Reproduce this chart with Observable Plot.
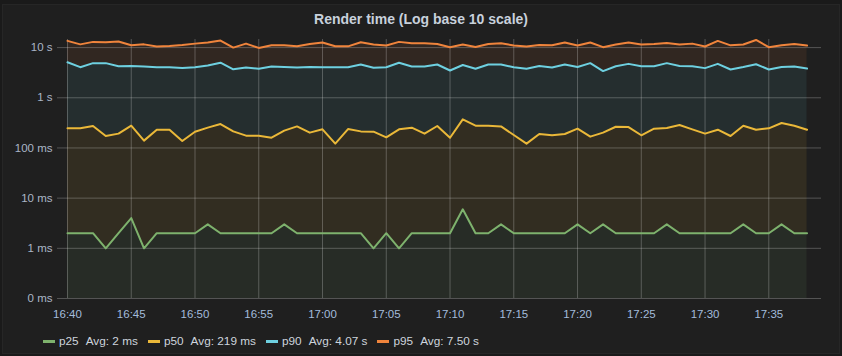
<!DOCTYPE html>
<html>
<head>
<meta charset="utf-8">
<script src="https://cdn.jsdelivr.net/npm/d3@7"></script>
<script src="https://cdn.jsdelivr.net/npm/@observablehq/plot@0.6"></script>
<style>
  html, body { margin: 0; padding: 0; background: #1a1a1a; }
  #panel { position: absolute; left: 2px; top: 4px; width: 838px; height: 350px; background: #1f1f1f; border: 1px solid #262626; box-sizing: border-box; }
  #title { position: absolute; left: 0; top: 10px; width: 842px; text-align: center; font: bold 14px "Liberation Sans", Arial, sans-serif; line-height: 18px; color: #c8d1dc; }
  #chart { position: absolute; left: 0; top: 30px; }
  #legend { position: absolute; left: 43px; top: 333px; font: 11.8px "Liberation Sans", Arial, sans-serif; line-height: 16px; color: #cdd4dd; display: flex; white-space: nowrap; }
  .item { display: flex; align-items: center; margin-right: 10px; }
  .sw { width: 12px; height: 3px; margin-right: 4px; }
  .name { margin-right: 7px; }
</style>
</head>
<body>
<div id="panel"></div>
<div id="title">Render time (Log base 10 scale)</div>
<div id="chart"></div>
<div id="legend"></div>
<script>
const times = ["16:40","16:41","16:42","16:43","16:44","16:45","16:46","16:47","16:48","16:49",
  "16:50","16:51","16:52","16:53","16:54","16:55","16:56","16:57","16:58","16:59",
  "17:00","17:01","17:02","17:03","17:04","17:05","17:06","17:07","17:08","17:09",
  "17:10","17:11","17:12","17:13","17:14","17:15","17:16","17:17","17:18","17:19",
  "17:20","17:21","17:22","17:23","17:24","17:25","17:26","17:27","17:28","17:29",
  "17:30","17:31","17:32","17:33","17:34","17:35","17:36","17:37","17:38"];

// p25 in ms
const p25 = [2,2,2,1,2,4,1,2,2,2, 2,3,2,2,2,2,2,3,2,2,
  2,2,2,2,1,2,1,2,2,2, 2,6,2,2,3,2,2,2,2,2,
  3,2,3,2,2,2,2,3,2,2, 2,2,2,3,2,2,3,2,2];
// p50 in ms
const p50 = [246,246,274,173,193,278,140,231,231,138, 211,254,300,214,176,176,160,221,269,202,
  235,122,238,214,211,163,235,254,193,274, 160,371,278,278,269,181,122,190,179,190,
  242,168,202,265,261,179,242,250,286,235, 193,231,173,278,231,246,314,278,231];
// p90 in s
const p90 = [5.1,4.07,4.9,4.9,4.26,4.3,4.2,4.07,4.07,3.9, 4.07,4.4,5.0,3.7,4.0,3.8,4.2,4.1,4.0,4.1,
  4.07,4.07,4.07,4.6,3.95,4.07,5.0,4.2,4.2,4.6, 3.5,4.5,3.8,4.6,4.6,4.07,3.8,4.3,4.0,4.6,
  4.1,4.9,3.4,4.26,4.74,4.26,4.26,4.9,4.3,4.26, 3.9,4.74,3.66,4.1,4.66,3.66,4.1,4.2,3.83];
// p95 in s
const p95 = [13.6,11.6,13.0,12.8,13.2,11.1,11.6,10.5,10.8,11.3, 12.0,12.6,13.8,10.0,12.0,9.85,11.1,11.1,10.6,11.8,
  12.6,10.6,10.6,12.8,11.5,11.0,13.0,12.2,12.2,11.8, 10.2,11.5,10.3,11.8,12.2,11.0,10.5,11.3,11.1,12.6,
  11.0,12.6,10.2,11.5,12.6,11.5,11.8,12.4,11.5,12.0, 10.5,13.6,11.1,11.5,14.2,10.2,11.1,11.8,11.0];

const seriesNames = ["p25","p50","p90","p95"];
const seriesColors = ["#7EB26D","#EAB839","#6ED0E0","#EF843C"];
const legendAvg = ["Avg: 2 ms","Avg: 219 ms","Avg: 4.07 s","Avg: 7.50 s"];

const yTicks = [0.1, 1, 10, 100, 1000, 10000];
const yTickLabels = ["0 ms","1 ms","10 ms","100 ms","1 s","10 s"];
const xTickLabels = ["16:40","16:45","16:50","16:55","17:00","17:05","17:10","17:15","17:20","17:25","17:30","17:35"];

const parse = d3.utcParse("%H:%M");
const rows = times.map((t, i) => ({t: parse(t), p25: p25[i], p50: p50[i], p90: p90[i] * 1000, p95: p95[i] * 1000}));
const xTicks = xTickLabels.map(parse);
const xEnd = new Date(parse("17:39").getTime() + 8000);

const grid = "rgba(255,255,255,0.24)";
const [cG, cY, cC, cO] = seriesColors;

const chart = Plot.plot({
  width: 842, height: 295,
  marginTop: 9, marginBottom: 27, marginLeft: 67, marginRight: 21,
  style: {background: "transparent", color: "#aab8cc", fontFamily: "'Liberation Sans', Arial, sans-serif", fontSize: "11.5px"},
  x: {type: "utc", domain: [parse("16:40"), xEnd]},
  y: {type: "log", domain: [0.1, 14500]},
  marks: [
    Plot.areaY(rows, {x: "t", y1: 0.1, y2: "p25", fill: cG, fillOpacity: 0.09}),
    Plot.areaY(rows, {x: "t", y1: "p25", y2: "p50", fill: cY, fillOpacity: 0.095}),
    Plot.areaY(rows, {x: "t", y1: "p50", y2: "p90", fill: cC, fillOpacity: 0.085}),
    Plot.areaY(rows, {x: "t", y1: "p90", y2: "p95", fill: cO, fillOpacity: 0.085}),
    Plot.gridX(xTicks, {stroke: grid, strokeOpacity: 1}),
    Plot.gridY(yTicks, {stroke: grid, strokeOpacity: 1}),
    Plot.axisY(yTicks, {tickSize: 10, tickPadding: 5, stroke: grid, fill: "#aab6c6", label: null,
      tickFormat: d => yTickLabels[yTicks.indexOf(d)]}),
    Plot.axisX(xTicks, {tickSize: 0, tickPadding: 11, fill: "#a3bcdc", label: null,
      tickFormat: d => xTickLabels[xTicks.findIndex(v => +v === +d)]}),
    Plot.line(rows, {x: "t", y: "p25", stroke: cG, strokeWidth: 2}),
    Plot.line(rows, {x: "t", y: "p50", stroke: cY, strokeWidth: 2}),
    Plot.line(rows, {x: "t", y: "p90", stroke: cC, strokeWidth: 2}),
    Plot.line(rows, {x: "t", y: "p95", stroke: cO, strokeWidth: 2})
  ]
});
document.getElementById("chart").appendChild(chart);

const legend = document.getElementById("legend");
seriesNames.forEach((name, i) => {
  const item = document.createElement("div");
  item.className = "item";
  item.innerHTML = `<span class="sw" style="background:${seriesColors[i]}"></span><span class="name">${name}</span><span>${legendAvg[i]}</span>`;
  legend.appendChild(item);
});
</script>
</body>
</html>
